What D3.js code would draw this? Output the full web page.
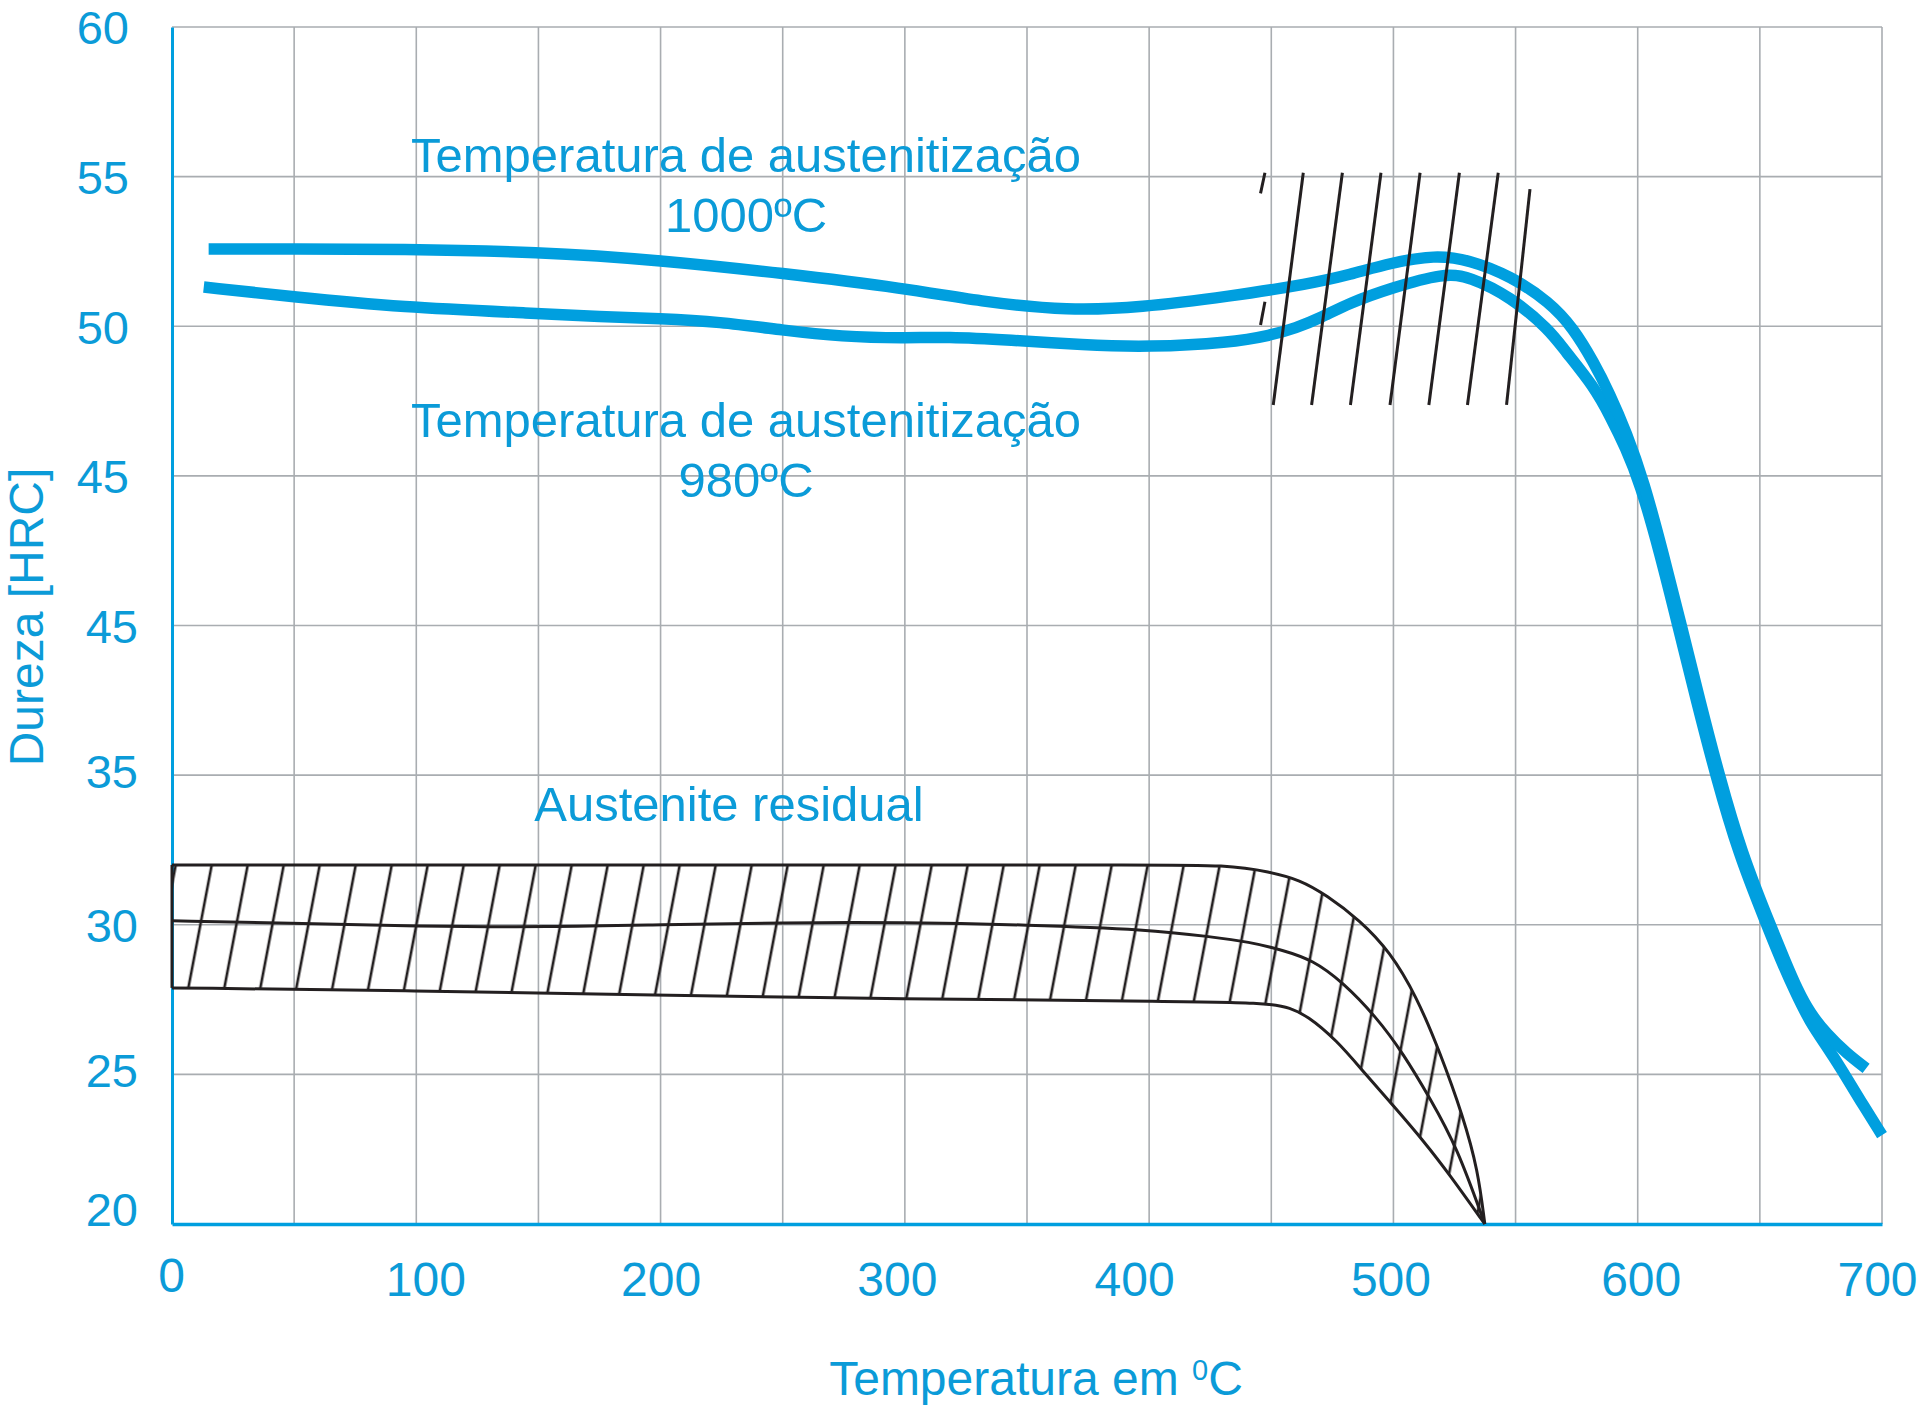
<!DOCTYPE html>
<html>
<head>
<meta charset="utf-8">
<script src="https://cdn.jsdelivr.net/npm/d3@7"></script>
<style>
html, body { margin: 0; padding: 0; background: #ffffff; }
svg { display: block; }
</style>
</head>
<body>
<svg id="chart" width="1920" height="1412"></svg>
<script>
// ---------------- DATA ----------------
const xTicks = [0, 100, 200, 300, 400, 500, 600, 700];
const yTicks = [60, 55, 50, 45, 40, 35, 30, 25, 20];
const yTickLabels = ["60", "55", "50", "45", "45", "35", "30", "25", "20"];
const xGridValues = [50, 100, 150, 200, 250, 300, 350, 400, 450, 500, 550, 600, 650, 700];
const yGridValues = [25, 30, 35, 40, 45, 50, 55, 60];

// Austenitizing at 1000 ºC
const t1000 = [15, 50, 93, 150, 200, 250, 300, 333, 367, 396, 433, 466, 482, 499, 517, 531, 548, 564, 573.5, 582, 588.5, 595.4, 602.4, 610.3, 618, 625.7, 633.3, 642.5, 654.2, 660, 665.5, 670.5, 677.3, 685.5, 693.5];
const hrc1000 = [52.58, 52.58, 52.58, 52.49, 52.21, 51.77, 51.27, 50.8, 50.52, 50.62, 51.0, 51.42, 51.72, 52.12, 52.38, 52.22, 51.68, 50.8, 49.95, 48.8, 47.75, 46.45, 44.85, 42.45, 39.95, 37.4, 35.0, 32.4, 30.0, 28.85, 27.8, 27.05, 26.35, 25.7, 25.2];

// Austenitizing at 980 ºC
const t980 = [13, 50, 93, 150, 175, 200, 224, 250, 274, 300, 317, 343, 373, 400, 433, 450, 460, 470, 482, 499, 521, 531, 548, 564, 570, 582, 589, 595, 601, 609, 616.6, 624.3, 631.9, 641.1, 652.8, 659, 664.5, 670.5, 677.3, 684, 691, 700];
const hrc980 = [51.31, 50.98, 50.64, 50.43, 50.32, 50.26, 50.15, 49.87, 49.65, 49.6, 49.65, 49.54, 49.37, 49.3, 49.45, 49.7, 49.94, 50.27, 50.78, 51.28, 51.78, 51.66, 50.99, 49.87, 49.2, 48.0, 46.95, 45.95, 44.75, 42.45, 39.95, 37.4, 35.0, 32.4, 30.0, 28.75, 27.75, 26.75, 25.95, 25.1, 24.14, 22.97];

// Residual austenite band
const bandTopT = [0, 100, 200, 300, 400, 431.7, 449.5, 461.7, 472.6, 486.3, 498.6, 509.5, 519, 528.6, 534.6, 537.4];
const bandTopHRC = [32.0, 32.0, 32.0, 32.0, 32.0, 32.0, 31.77, 31.5, 30.99, 30.15, 29.1, 27.6, 25.75, 23.58, 21.8, 20.0];
const bandMidT = [0, 48, 100, 155, 200, 250, 300, 350, 400, 425, 441, 454.8, 467, 479, 493, 504, 515, 526, 537.4];
const bandMidHRC = [30.13, 30.05, 29.95, 29.92, 30.0, 30.07, 30.08, 30.0, 29.84, 29.6, 29.43, 29.15, 28.82, 28.1, 26.92, 25.7, 24.2, 22.58, 20.0];
const bandBotT = [0, 100, 196, 300, 400, 449.5, 457.7, 464.5, 476.8, 487.6, 500, 512.6, 523, 537.4];
const bandBotHRC = [27.89, 27.8, 27.65, 27.52, 27.45, 27.4, 27.21, 26.98, 26.14, 25.1, 23.95, 22.75, 21.65, 20.0];

// Secondary-hardening hatch segments (start / end)
const hatchT1 = [450.8, 466.5, 482.4, 498.6, 514.5, 530.3, 546.3, 447.4, 447.4];
const hatchH1 = [47.37, 47.37, 47.37, 47.37, 47.37, 47.37, 47.37, 55.13, 50.82];
const hatchT2 = [463.1, 479.1, 494.9, 510.9, 527.0, 542.9, 555.9, 445.6, 445.6];
const hatchH2 = [55.13, 55.13, 55.13, 55.13, 55.13, 55.13, 54.58, 54.44, 50.04];

// ---------------- STYLE ----------------
const BLUE = "#009fdf";
const TEXT = "#0b9bd8";
const GRID = "#a9adb1";
const INK = "#231f20";
const FONT = "'Liberation Sans', Arial, Helvetica, sans-serif";
const xLabelNudge = { 0: -1, 100: 9, 200: 0, 300: -8, 400: -15, 500: -3, 600: 3, 700: -5 };

const svg = d3.select("#chart");
svg.append("rect").attr("width", 1920).attr("height", 1412).attr("fill", "#ffffff");

const x = d3.scaleLinear().domain([0, 700]).range([172, 1882]);
const y = d3.scaleLinear().domain([20, 60]).range([1224, 27]);

// Grid
const grid = svg.append("g");
grid.selectAll("line.v").data(xGridValues).join("line").attr("class", "v")
  .attr("x1", d => x(d)).attr("x2", d => x(d))
  .attr("y1", y(60)).attr("y2", y(20))
  .attr("stroke", GRID).attr("stroke-width", 1.6);
grid.selectAll("line.h").data(yGridValues).join("line").attr("class", "h")
  .attr("x1", x(0)).attr("x2", x(700))
  .attr("y1", d => y(d)).attr("y2", d => y(d))
  .attr("stroke", GRID).attr("stroke-width", 1.6);

// Axes
const xAxis = d3.axisBottom(x).tickValues(xTicks).tickSize(0).tickSizeOuter(0).tickFormat(d3.format("d"));
const gx = svg.append("g").attr("transform", `translate(0,${y(20)})`).call(xAxis);
gx.select(".domain").attr("stroke", BLUE).attr("stroke-width", 3.5);
gx.selectAll(".tick text")
  .attr("y", d => (d === 0 ? 68 : 72)).attr("dy", 0)
  .attr("x", d => xLabelNudge[d] || 0)
  .attr("fill", TEXT).attr("font-size", 48).attr("font-family", FONT);

const yAxis = d3.axisLeft(y).tickValues(yTicks).tickSize(0).tickSizeOuter(0)
  .tickFormat((d, i) => yTickLabels[i]);
const gy = svg.append("g").attr("transform", `translate(${x(0)},0)`).call(yAxis);
gy.select(".domain").attr("stroke", BLUE).attr("stroke-width", 3);
gy.selectAll(".tick text")
  .attr("x", (d, i) => (i < 4 ? -43 : -34))
  .attr("dy", "0.36em")
  .attr("transform", d => (d === 20 ? "translate(0,-15)" : (d === 35 || d === 25) ? "translate(0,-5)" : null))
  .attr("fill", TEXT).attr("font-size", 47).attr("font-family", FONT);

// Curves
const line = d3.line().x(d => x(d[0])).y(d => y(d[1])).curve(d3.curveBasis);
const s1000 = t1000.map((t, i) => [t, hrc1000[i]]);
const s980 = t980.map((t, i) => [t, hrc980[i]]);

svg.append("g").selectAll("path").data([s980, s1000]).join("path")
  .attr("d", d => line(d))
  .attr("fill", "none").attr("stroke", BLUE).attr("stroke-width", 11.5)
  .attr("stroke-linecap", "butt").attr("stroke-linejoin", "round");

// Residual austenite band with hatching
const defs = svg.append("defs");
const pat = defs.append("pattern").attr("id", "hatch")
  .attr("patternUnits", "userSpaceOnUse").attr("width", 36).attr("height", 40)
  .attr("patternTransform", "skewX(-10.76)");
pat.append("line").attr("x1", 16.1).attr("x2", 16.1).attr("y1", -2).attr("y2", 42)
  .attr("stroke", INK).attr("stroke-width", 2.7);

const topPts = bandTopT.map((t, i) => [t, bandTopHRC[i]]);
const botPts = bandBotT.map((t, i) => [t, bandBotHRC[i]]);
const midPts = bandMidT.map((t, i) => [t, bandMidHRC[i]]);
const topPath = line(topPts);
const botPath = line(botPts);
const midPath = line(midPts);
const tipT = bandTopT[bandTopT.length - 1];

// region below the top boundary
defs.append("clipPath").attr("id", "clipBelowTop").append("path")
  .attr("d", topPath + `L${x(tipT) + 2},${y(10)}L${x(0)},${y(10)}Z`);
// region above the bottom boundary
defs.append("clipPath").attr("id", "clipAboveBot").append("path")
  .attr("d", botPath + `L${x(tipT) + 2},${y(40)}L${x(0)},${y(40)}Z`);

const band = svg.append("g");
band.append("g").attr("clip-path", "url(#clipBelowTop)")
  .append("g").attr("clip-path", "url(#clipAboveBot)")
  .append("rect")
  .attr("x", x(0)).attr("y", y(33)).attr("width", x(tipT) - x(0) + 4).attr("height", y(19) - y(33))
  .attr("fill", "url(#hatch)");

band.selectAll("path.edge").data([topPath, midPath, botPath]).join("path")
  .attr("class", "edge").attr("d", d => d)
  .attr("fill", "none").attr("stroke", INK).attr("stroke-width", 3)
  .attr("stroke-linejoin", "round");
band.append("line")
  .attr("x1", x(bandTopT[0])).attr("x2", x(bandBotT[0]))
  .attr("y1", y(bandTopHRC[0])).attr("y2", y(bandBotHRC[0]))
  .attr("stroke", INK).attr("stroke-width", 3);

// Upper hatch region
svg.append("g").selectAll("line").data(hatchT1.map((t, i) => i)).join("line")
  .attr("x1", i => x(hatchT1[i])).attr("y1", i => y(hatchH1[i]))
  .attr("x2", i => x(hatchT2[i])).attr("y2", i => y(hatchH2[i]))
  .attr("stroke", INK).attr("stroke-width", 3);

// Annotations
const ann = svg.append("g").attr("fill", TEXT).attr("font-family", FONT)
  .attr("font-size", 49).attr("text-anchor", "middle");
ann.append("text").attr("x", x(235)).attr("y", y(55.16)).text("Temperatura de austenitização");
ann.append("text").attr("x", x(235)).attr("y", y(53.16)).text("1000ºC");
ann.append("text").attr("x", x(235)).attr("y", y(46.31)).text("Temperatura de austenitização");
ann.append("text").attr("x", x(235)).attr("y", y(44.30)).text("980ºC");
ann.append("text").attr("x", x(228)).attr("y", y(33.48)).text("Austenite residual");

// Axis titles
svg.append("text")
  .attr("transform", "translate(43,617) rotate(-90)")
  .attr("text-anchor", "middle").attr("fill", TEXT)
  .attr("font-family", FONT).attr("font-size", 48)
  .text("Dureza [HRC]");

const xt = svg.append("text").attr("x", 1036).attr("y", 1395)
  .attr("text-anchor", "middle").attr("fill", TEXT)
  .attr("font-family", FONT).attr("font-size", 48);
xt.append("tspan").text("Temperatura em ");
xt.append("tspan").attr("font-size", 29).attr("dy", -15).text("0");
xt.append("tspan").attr("dy", 15).text("C");
</script>
</body>
</html>
